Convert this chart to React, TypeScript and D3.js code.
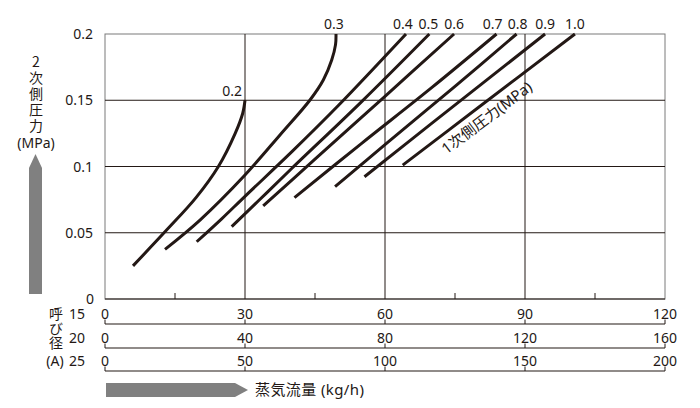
import React from "react";
import * as d3 from "d3";

// ---- data ----
const flowTicks15 = [0, 30, 60, 90, 120];
const flowTicks20 = [0, 40, 80, 120, 160];
const flowTicks25 = [0, 50, 100, 150, 200];
const minorTicks = [15, 45, 75, 105];
const gridX = [30, 60, 90];
const yTicks = [0, 0.05, 0.1, 0.15, 0.2];
const yTickLabels = ["0", "0.05", "0.1", "0.15", "0.2"];
const gridY = [0.05, 0.1, 0.15];
const rowNames = ["15", "20", "25"];

const pressureLabels = ["0.2", "0.3", "0.4", "0.5", "0.6", "0.7", "0.8", "0.9", "1.0"];

const curve02: [number, number][] = [[6, 0.025], [13.2, 0.052], [19.5, 0.0765], [24.3, 0.1], [27.9, 0.125], [29.5, 0.14], [30, 0.15]];
const curve03: [number, number][] = [[12.86, 0.0375], [20.36, 0.0596], [30, 0.0936], [37.5, 0.1238], [43.93, 0.1502], [46.78, 0.1653], [48.58, 0.1804], [49.4, 0.192], [49.5, 0.2]];
const curve04: [number, number][] = [[19.65, 0.0432], [25, 0.0605], [30, 0.0775], [40, 0.111], [50, 0.146], [64.5, 0.2]];
const curve05: [number, number][] = [[27.15, 0.0546], [33, 0.0745], [40, 0.0985], [55, 0.149], [69.5, 0.2]];
const curve06: [number, number][] = [[33.9, 0.0702], [45, 0.1055], [60, 0.153], [74.8, 0.2]];
const curve07: [number, number][] = [[40.6, 0.0765], [55, 0.1175], [70, 0.1595], [83.9, 0.2]];
const curve08: [number, number][] = [[49.3, 0.0848], [60, 0.1165], [75, 0.1605], [88.2, 0.2]];
const curve09: [number, number][] = [[55.6, 0.0923], [70, 0.1325], [94.3, 0.2]];
const curve10: [number, number][] = [[63.8, 0.101], [80, 0.1445], [100.7, 0.2]];

const curves = [curve02, curve03, curve04, curve05, curve06, curve07, curve08, curve09, curve10];
const labelDx = [0, -2, -3, -1, 0, -4, 1, 0, 0];

const FONT = "'Noto Sans', 'Noto Sans CJK JP', sans-serif";
const CJK = "'Noto Sans CJK JP', 'Noto Sans', sans-serif";
const INK = "#231815";

export default function App() {
  const L = 105, R = 665, T = 34, B = 299;
  const x = d3.scaleLinear().domain([0, 120]).range([L, R]);
  const x20 = d3.scaleLinear().domain([0, 160]).range([L, R]);
  const x25 = d3.scaleLinear().domain([0, 200]).range([L, R]);
  const y = d3.scaleLinear().domain([0, 0.2]).range([B, T]);

  const line = d3
    .line<[number, number]>()
    .x((d) => x(d[0]))
    .y((d) => y(d[1]))
    .curve(d3.curveCatmullRom.alpha(0.5));

  const rows = [
    { scale: x, ticks: flowTicks15, lineY: 324 },
    { scale: x20, ticks: flowTicks20, lineY: 348 },
    { scale: x25, ticks: flowTicks25, lineY: 371 },
  ];

  return (
    <svg
      width={700}
      height={408}
      style={{ position: "absolute", left: 0, top: 0, background: "#fff" }}
      fontFamily={FONT}
    >
      <rect x={0} y={0} width={700} height={408} fill="#fff" />
      {/* frame */}
      <rect x={L} y={T} width={R - L} height={B - T} fill="none" stroke="#7a7a7a" strokeWidth={1} />
      {/* grid */}
      {gridY.map((v) => (
        <line key={"gy" + v} x1={L} x2={R} y1={y(v)} y2={y(v)} stroke={INK} strokeWidth={1} />
      ))}
      {gridX.map((v) => (
        <line key={"gx" + v} x1={x(v)} x2={x(v)} y1={T} y2={B} stroke={INK} strokeWidth={1} />
      ))}
      {minorTicks.map((v) => (
        <line key={"mt" + v} x1={x(v)} x2={x(v)} y1={B - 6} y2={B} stroke={INK} strokeWidth={1} />
      ))}
      <line x1={L} x2={R} y1={B} y2={B} stroke={INK} strokeWidth={1.2} />

      {/* y tick labels */}
      {yTicks.map((v, i) => (
        <text
          key={"yt" + v}
          x={i === 0 ? 94 : 93}
          y={y(v) + 5}
          textAnchor="end"
          fontSize={14}
          fill={INK}
        >
          {yTickLabels[i]}
        </text>
      ))}

      {/* curves */}
      {curves.map((c, i) => (
        <path key={"c" + i} d={line(c) || ""} fill="none" stroke={INK} strokeWidth={3} strokeLinecap="butt" />
      ))}

      {/* curve labels */}
      {curves.map((c, i) => {
        const end = c[c.length - 1];
        if (i === 0) {
          return (
            <text key={"cl" + i} x={x(end[0]) - 3} y={y(end[1]) - 4} textAnchor="end" fontSize={14} fill={INK}>
              {pressureLabels[i]}
            </text>
          );
        }
        return (
          <text key={"cl" + i} x={x(end[0]) + labelDx[i]} y={29} textAnchor="middle" fontSize={14} fill={INK}>
            {pressureLabels[i]}
          </text>
        );
      })}

      {/* rotated primary pressure label */}
      <text
        transform={`translate(490,122) rotate(-37)`}
        textAnchor="middle"
        fontSize={15}
        fill={INK}
      >
        1次側圧力(MPa)
      </text>

      {/* Y axis title */}
      <text
        x={36}
        y={55}
        fontFamily={CJK}
        fontSize={14}
        fill={INK}
        style={{ writingMode: "vertical-rl", textOrientation: "upright", letterSpacing: "2px" } as any}
      >
        2次側圧力
      </text>
      <text x={36} y={148} textAnchor="middle" fontSize={14} fill={INK}>
        (MPa)
      </text>
      {/* Y arrow */}
      <path d={`M29,294 L29,168 L35.5,154 L42,168 L42,294 Z`} fill="#808080" />

      {/* bottom flow scales */}
      {rows.map((r, ri) => (
        <g key={"row" + ri}>
          <line x1={L} x2={R} y1={r.lineY} y2={r.lineY} stroke={INK} strokeWidth={1.2} />
          {r.ticks.map((t) => (
            <g key={"rt" + t}>
              <line x1={r.scale(t)} x2={r.scale(t)} y1={r.lineY - 4.5} y2={r.lineY} stroke={INK} strokeWidth={1} />
              <text x={r.scale(t)} y={r.lineY - 5} textAnchor="middle" fontSize={14} fill={INK}>
                {t}
              </text>
            </g>
          ))}
          <text x={77} y={r.lineY - 5} textAnchor="middle" fontSize={14} fill={INK}>
            {rowNames[ri]}
          </text>
        </g>
      ))}
      {/* 呼び径(A) */}
      <text
        x={56}
        y={307}
        fontFamily={CJK}
        fontSize={14}
        fill={INK}
        style={{ writingMode: "vertical-rl", textOrientation: "upright", letterSpacing: "0.5px" } as any}
      >
        呼び径
      </text>
      <text x={55} y={366} textAnchor="middle" fontSize={14} fill={INK}>(A)</text>

      {/* X arrow */}
      <path d={`M106,383 L235,383 L248,390 L235,397 L106,397 Z`} fill="#808080" />
      <text x={255} y={395} fontSize={15} fill={INK} style={{ letterSpacing: "0.4px" }}>
        蒸気流量 (kg/h)
      </text>
    </svg>
  );
}
